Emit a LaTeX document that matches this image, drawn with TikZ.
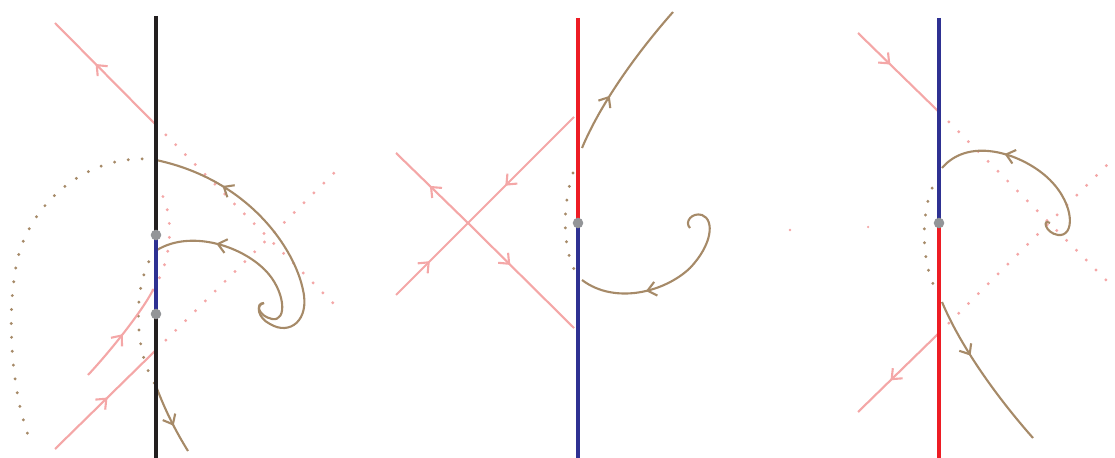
\documentclass[tikz,border=0pt]{standalone}
\usetikzlibrary{arrows.meta,decorations.markings}
\definecolor{cpink}{HTML}{F4A7A7}
\definecolor{cbrown}{HTML}{A68A68}
\definecolor{cblue}{HTML}{2E3192}
\definecolor{cred}{HTML}{ED1C24}
\definecolor{cgray}{HTML}{939598}
\definecolor{cblack}{HTML}{231F20}

\begin{document}
\begin{tikzpicture}[x=0.025cm,y=-0.025cm,
  axis/.style={line width=2.8pt},
  orbit/.style={line width=1.5pt,cbrown},
  manif/.style={line width=1.5pt,cpink},
  dots/.style={line width=2.3pt,line cap=round,dash pattern=on 0pt off 9.9pt},
  flow/.style={postaction={decorate},decoration={markings,
    mark=at position #1 with {\arrow{Straight Barb[length=6pt,width=10pt]}}}},
  fixpt/.style={circle,fill=cgray,inner sep=0pt,minimum size=7.5pt}]
  \useasboundingbox (0,0) rectangle (1115,458);

  \coordinate (Lp) at (156,235);
  \coordinate (Lq) at (156,314);
  \coordinate (Lu) at (156,125);
  \coordinate (Ls) at (156,350);
  \draw[dots,cpink] (Lu) -- (340,310);
  \draw[dots,cpink] (Ls) -- (340,167);
  \draw[dots,cpink] (153,290) .. controls (175,255) and (175,205) .. (154,183);
  \draw[dots,cbrown] (156,160) .. controls (100,152) and (40,190) .. (20,250)
    .. controls (5,300) and (10,390) .. (30,440);
  \draw[dots,cbrown] (156,250) .. controls (135,275) and (130,345) .. (156,386);
  \draw[manif,flow=0.6] (Lu) -- (55,23);
  \draw[manif,flow=0.52] (55,449) -- (Ls);
  \draw[manif,flow=0.5] (88,375) .. controls (105,357) and (140,315) .. (153,290);
  \draw[orbit,flow=0.76] (264,303) .. controls (255,305) and (258,318) .. (270,324)
    .. controls (290,336) and (310,320) .. (303,290)
    .. controls (295,250) and (250,180) .. (156,160);
  \draw[orbit,flow=0.7] (264,303) .. controls (255,303) and (258,316) .. (272,319)
    .. controls (288,322) and (285,290) .. (265,270)
    .. controls (240,245) and (190,230) .. (157,250);
  \draw[orbit,flow=0.6] (156,386) .. controls (165,410) and (175,430) .. (188,451);
  \draw[axis,cblack] (156,16) -- (156,458);
  \draw[axis,cblue] (Lp) -- (Lq);
  \node[fixpt] (L1) at (Lp) {};
  \node[fixpt] (L2) at (Lq) {};

  \coordinate (Mc) at (468,223);
  \coordinate (Mo) at (578,223);
  \draw[dots,cbrown] (578,160) .. controls (562,195) and (560,250) .. (578,276);
  \draw[manif,flow=0.53] (Mc) -- (396,153);
  \draw[manif,flow=0.4] (Mc) -- (574,328);
  \draw[manif,flow=0.47] (396,295) -- (Mc);
  \draw[manif,flow=0.65] (574,117) -- (Mc);
  \draw[orbit,flow=0.36] (582,148) .. controls (600,105) and (635,55) .. (673,12);
  \draw[orbit,flow=0.67] (690,228) .. controls (684,222) and (692,212) .. (702,215)
    .. controls (715,220) and (712,245) .. (690,268)
    .. controls (665,292) and (615,305) .. (582,280);
  \draw[axis,cred] (578,18) -- (Mo);
  \draw[axis,cblue] (Mo) -- (578,458);
  \node[fixpt] (M1) at (Mo) {};

  \coordinate (Ro) at (939,223);
  \coordinate (Ru) at (939,112);
  \coordinate (Rs) at (939,333);
  \fill[cpink] (790,230) circle (0.9pt);
  \fill[cpink] (868,227) circle (0.9pt);
  \draw[dots,cpink] (Ru) -- (1110,284);
  \draw[dots,cpink] (Rs) -- (1109,163);
  \draw[dots,cbrown] (939,176) .. controls (920,200) and (920,260) .. (935,288);
  \draw[manif,flow=0.4] (858,33) -- (Ru);
  \draw[manif,flow=0.6] (Rs) -- (858,412);
  \draw[orbit,flow=0.68] (1050,223) .. controls (1042,218) and (1045,233) .. (1058,235)
    .. controls (1075,237) and (1075,205) .. (1050,180)
    .. controls (1025,155) and (970,135) .. (942,168);
  \draw[orbit,flow=0.37] (942,302) .. controls (960,345) and (995,395) .. (1033,438);
  \draw[axis,cblue] (939,18) -- (Ro);
  \draw[axis,cred] (Ro) -- (939,458);
  \node[fixpt] (R1) at (Ro) {};
\end{tikzpicture}
\end{document}
